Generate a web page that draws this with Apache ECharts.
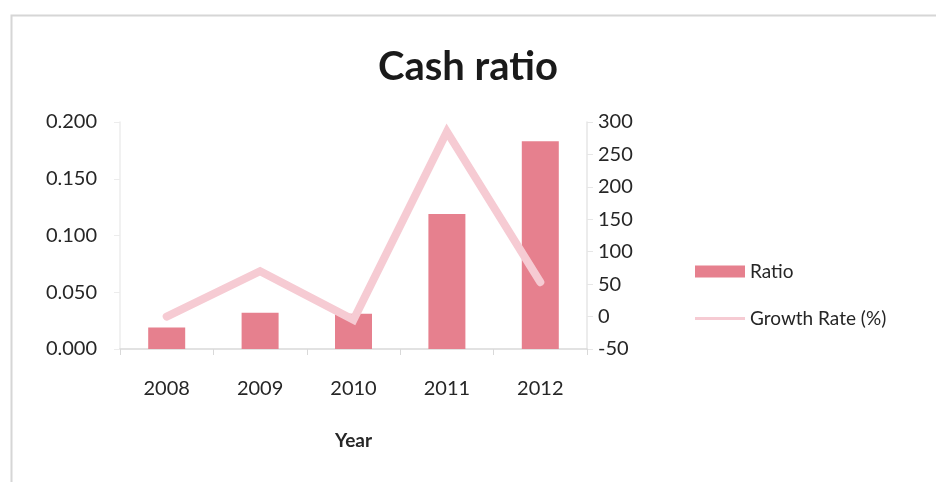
<!DOCTYPE html>
<html>
<head>
<meta charset="utf-8">
<script src="https://cdn.jsdelivr.net/npm/echarts@6/dist/echarts.min.js"></script>
<style>
  html, body { margin: 0; padding: 0; background: #ffffff; }
  #chart { width: 936px; height: 482px; }
</style>
</head>
<body>
<div id="chart"></div>
<script>
// Cash ratio by year, with its year-on-year growth rate
var years = ['2008', '2009', '2010', '2011', '2012'];
var ratio = [0.019, 0.032, 0.031, 0.119, 0.183];
var growthRate = [0, 70, -5, 285, 53];

var leftTicks = { min: 0, max: 0.2, interval: 0.05 };
var rightTicks = { min: -50, max: 300, interval: 50 };

var FONT = 'Lato, "Open Sans", sans-serif';
var TEXT = '#262626';
var AXIS = '#d9d9d9';

var chart = echarts.init(document.getElementById('chart'), null, { renderer: 'canvas' });

chart.setOption({
  backgroundColor: '#ffffff',
  animation: false,
  textStyle: { fontFamily: FONT },
  title: {
    text: 'Cash ratio',
    left: 'center',
    top: 42,
    textStyle: { fontFamily: FONT, fontSize: 40, fontWeight: 'bold', color: '#1a1a1a' }
  },
  graphic: [{
    type: 'rect',
    left: 9, top: 13,
    shape: { width: 940, height: 480 },
    style: { fill: 'none', stroke: '#d6d6d6', lineWidth: 2 },
    silent: true
  }],
  legend: {
    orient: 'vertical',
    left: 690,
    top: 257,
    itemWidth: 50,
    itemHeight: 12,
    itemGap: 28,
    symbolKeepAspect: true,
    textStyle: { fontFamily: FONT, fontSize: 19, color: TEXT, padding: [0, 0, 0, 0] },
    data: [
      { name: 'Ratio', icon: 'rect' },
      { name: 'Growth Rate (%)', icon: 'path://M0,0H50V3H0Z' }
    ]
  },
  grid: { left: 120, right: 349, top: 122, bottom: 133, containLabel: false },
  xAxis: {
    type: 'category',
    data: years,
    name: 'Year',
    nameLocation: 'middle',
    nameGap: 82,
    nameTextStyle: { fontFamily: FONT, fontSize: 19, fontWeight: 'bold', color: TEXT },
    axisLine: { lineStyle: { color: AXIS, width: 1.5 } },
    axisTick: { show: true, length: 6, lineStyle: { color: AXIS } },
    axisLabel: { fontFamily: FONT, fontSize: 20, color: TEXT, margin: 30 },
    splitLine: { show: false }
  },
  yAxis: [{
    type: 'value',
    min: leftTicks.min, max: leftTicks.max, interval: leftTicks.interval,
    axisLine: { show: true, lineStyle: { color: '#ececec', width: 1.5 } },
    axisTick: { show: true, length: 6, lineStyle: { color: '#ececec' } },
    axisLabel: {
      fontFamily: FONT, fontSize: 20, color: TEXT, margin: 23,
      formatter: function (v) { return v.toFixed(3); }
    },
    splitLine: { show: false }
  }, {
    type: 'value',
    min: rightTicks.min, max: rightTicks.max, interval: rightTicks.interval,
    axisLine: { show: true, lineStyle: { color: '#e6e6e6', width: 1.5 } },
    axisTick: { show: true, length: 6, lineStyle: { color: '#e6e6e6' } },
    axisLabel: { fontFamily: FONT, fontSize: 20, color: TEXT, margin: 11 },
    splitLine: { show: false }
  }],
  series: [{
    name: 'Ratio',
    type: 'bar',
    data: ratio,
    barWidth: 37,
    yAxisIndex: 0,
    itemStyle: { color: '#e6808e' }
  }, {
    name: 'Growth Rate (%)',
    type: 'line',
    data: growthRate,
    yAxisIndex: 1,
    symbol: 'none',
    lineStyle: { color: '#f6cbd3', width: 8, cap: 'round', join: 'miter' },
    itemStyle: { color: '#f6cbd3' }
  }]
});
</script>
</body>
</html>
